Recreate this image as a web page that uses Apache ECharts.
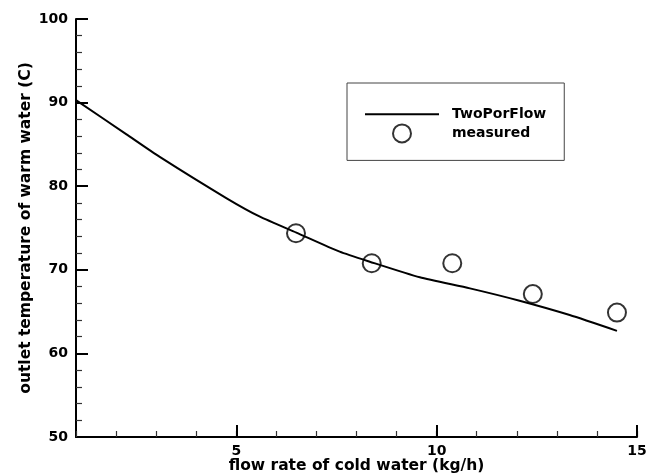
<!DOCTYPE html>
<html>
<head>
<meta charset="utf-8">
<script src="https://cdn.jsdelivr.net/npm/echarts@6/dist/echarts.min.js"></script>
<style>
html,body{margin:0;padding:0;background:#fff;}
#chart{width:661px;height:475px;}
</style>
</head>
<body>
<div id="chart"></div>
<script>
// Model curve (TwoPorFlow)
var curveX = [1, 2.26, 3.09, 4.76, 5.59, 6.5, 7.58, 8.33, 9.58, 10.83, 12.07, 13.32, 14.5];
var curveY = [90.3, 86.2, 83.5, 78.55, 76.35, 74.45, 72.17, 70.97, 69.1, 67.78, 66.3, 64.59, 62.7];
// Measured points
var measX = [6.49, 8.38, 10.39, 12.4, 14.5];
var measY = [74.37, 70.78, 70.78, 67.1, 64.88];
// Axis tick labels
var xMajorTicks = [5, 10, 15];
var yTicks = [50, 60, 70, 80, 90, 100];

var FONT = 'DejaVu Sans';
var chart = echarts.init(document.getElementById('chart'), null, {renderer: 'canvas'});

function zip(a, b) { return a.map(function (v, i) { return [v, b[i]]; }); }

var gridBox = {left: 76, right: 24, top: 19, bottom: 38, containLabel: false, outerBoundsMode: 'none'};

chart.setOption({
  animation: false,
  backgroundColor: '#fff',
  grid: [Object.assign({}, gridBox), Object.assign({}, gridBox)],
  legend: {
    show: true,
    left: 347,
    top: 83,
    orient: 'vertical',
    selectedMode: false,
    backgroundColor: '#fff',
    borderColor: '#444',
    borderWidth: 1,
    padding: [24, 18, 17, 17],
    itemWidth: 74,
    itemHeight: 18,
    itemGap: 2,
    textStyle: {fontFamily: FONT, fontWeight: 'bold', fontSize: 14, color: '#000', padding: [0, 0, 0, 8]},
    data: [
      {name: 'TwoPorFlow', itemStyle: {color: 'rgba(0,0,0,0)', borderColor: 'rgba(0,0,0,0)', borderWidth: 0, opacity: 0}},
      {name: 'measured', itemStyle: {color: 'rgba(255,255,255,0)', borderColor: '#000', borderWidth: 2}}
    ]
  },
  xAxis: [{
    type: 'value',
    gridIndex: 0,
    min: 1,
    max: 15,
    interval: 1,
    name: 'flow rate of cold water (kg/h)',
    nameLocation: 'middle',
    nameGap: 21,
    nameMoveOverlap: false,
    nameTextStyle: {fontFamily: FONT, fontWeight: 'bold', fontSize: 15.5, color: '#000'},
    axisLine: {show: true, onZero: false, lineStyle: {color: '#000', width: 2}},
    axisTick: {show: true, inside: true, length: 6, lineStyle: {color: '#333', width: 1.2}},
    axisLabel: {
      show: true, margin: 7, fontFamily: FONT, fontWeight: 'bold', fontSize: 14, color: '#000',
      formatter: function (v) { return xMajorTicks.indexOf(v) >= 0 ? String(v) : ''; }
    },
    splitLine: {show: false}
  }, {
    type: 'value',
    gridIndex: 1,
    min: 1,
    max: 15,
    interval: 1,
    axisLine: {show: false},
    axisTick: {show: true, inside: true, length: 12, customValues: xMajorTicks, lineStyle: {color: '#000', width: 2}},
    axisLabel: {show: false},
    splitLine: {show: false}
  }],
  yAxis: [{
    type: 'value',
    gridIndex: 0,
    min: 50,
    max: 100,
    interval: 10,
    name: 'outlet temperature of warm water (C)',
    nameLocation: 'middle',
    nameRotate: 90,
    nameGap: 42,
    nameMoveOverlap: false,
    nameTextStyle: {fontFamily: FONT, fontWeight: 'bold', fontSize: 15.5, color: '#000'},
    axisLine: {show: true, onZero: false, lineStyle: {color: '#000', width: 2}},
    axisTick: {show: true, inside: true, length: 12, lineStyle: {color: '#000', width: 2}},
    minorTick: {show: true, splitNumber: 5, length: 6, lineStyle: {color: '#333', width: 1.2}},
    axisLabel: {
      show: true, margin: 8, fontFamily: FONT, fontWeight: 'bold', fontSize: 14, color: '#000',
      customValues: yTicks
    },
    splitLine: {show: false}
  }, {
    type: 'value',
    gridIndex: 1,
    min: 50,
    max: 100,
    show: false
  }],
  series: [{
    name: 'TwoPorFlow',
    type: 'line',
    xAxisIndex: 0,
    yAxisIndex: 0,
    data: zip(curveX, curveY),
    symbol: 'none',
    smooth: 0.2,
    lineStyle: {color: '#000', width: 2},
    itemStyle: {color: '#000'},
    z: 2
  }, {
    name: 'measured',
    type: 'scatter',
    xAxisIndex: 0,
    yAxisIndex: 0,
    data: zip(measX, measY),
    symbol: 'circle',
    symbolSize: 18,
    itemStyle: {color: 'rgba(255,255,255,0)', borderColor: '#000', borderWidth: 2},
    z: 3
  }]
});
</script>
</body>
</html>
